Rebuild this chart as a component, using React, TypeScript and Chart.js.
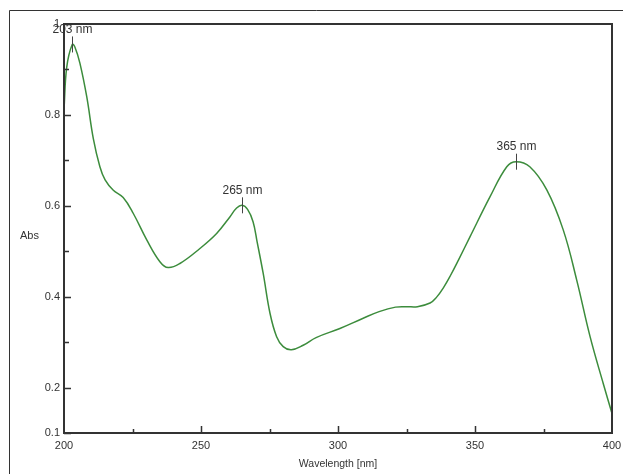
import React, { useEffect, useRef } from "react";
import { Chart, registerables } from "chart.js";

Chart.register(...registerables);

const wavelengths = [
  200, 201, 203, 204, 205.8, 208.3, 210.7, 213.1, 215, 218, 221.6, 225.3, 230.2, 235, 238, 242.3,
  249.6, 255.7, 260.6, 263, 265, 267, 269, 270.5, 272.7, 275.2, 277.6, 280, 283, 287.3, 292,
  300.7, 309, 315, 321, 325, 329, 333.6, 336, 338.4, 341, 344, 348.2, 355.5, 361.6, 365, 370, 376.2,
  382.2, 387.1, 392, 396.8, 400,
];
const absorbance = [
  0.812, 0.905, 0.955, 0.949, 0.914, 0.84, 0.748, 0.686, 0.657, 0.634, 0.618, 0.583, 0.525, 0.477, 0.464, 0.473,
  0.506, 0.539, 0.576, 0.595, 0.601, 0.592, 0.565, 0.52, 0.451, 0.363, 0.312, 0.29, 0.283, 0.293, 0.31,
  0.33, 0.352, 0.367, 0.377, 0.378, 0.378, 0.386, 0.399, 0.419, 0.446, 0.481, 0.532, 0.62, 0.686, 0.697, 0.686, 0.635,
  0.547, 0.437, 0.312, 0.209, 0.143,
];
const peakWavelengths = [203, 265, 365];
const peakLabels = ["203 nm", "265 nm", "365 nm"];
const yTickValues = [0.1, 0.2, 0.4, 0.6, 0.8, 1];
const yMinorTicks = [0.3, 0.5, 0.7, 0.9];
const xMajorTicks = [250, 300, 350];
const xMinorTicks = [225, 275, 325, 375];

const FONT = "'Liberation Sans', Arial, sans-serif";
const TEXT = "#333333";

const decorPlugin = {
  id: "decor",
  beforeDraw(chart: any) {
    const ctx = chart.ctx;
    ctx.save();
    ctx.strokeStyle = "#333";
    ctx.lineWidth = 1;
    ctx.beginPath();
    ctx.moveTo(9.5, 474);
    ctx.lineTo(9.5, 10.5);
    ctx.lineTo(623, 10.5);
    ctx.stroke();
    ctx.fillStyle = TEXT;
    ctx.font = `11px ${FONT}`;
    ctx.textAlign = "left";
    ctx.textBaseline = "middle";
    ctx.fillText("Abs", 20, 236);
    ctx.restore();
  },
  afterDatasetsDraw(chart: any) {
    const ctx = chart.ctx;
    const { left, right, top, bottom } = chart.chartArea;
    const xs = chart.scales.x;
    const ys = chart.scales.y;
    ctx.save();
    ctx.strokeStyle = "#333";
    ctx.lineWidth = 2;
    ctx.strokeRect(left, top, right - left, bottom - top);
    ctx.lineWidth = 1.5;
    ctx.beginPath();
    xMajorTicks.forEach((v) => {
      const px = Math.round(xs.getPixelForValue(v)) + 0.5;
      ctx.moveTo(px, bottom);
      ctx.lineTo(px, bottom - 7);
    });
    xMinorTicks.forEach((v) => {
      const px = Math.round(xs.getPixelForValue(v)) + 0.5;
      ctx.moveTo(px, bottom);
      ctx.lineTo(px, bottom - 4);
    });
    yTickValues.forEach((v) => {
      const py = Math.round(ys.getPixelForValue(v)) + 0.5;
      ctx.moveTo(left, py);
      ctx.lineTo(left + 7, py);
    });
    yMinorTicks.forEach((v) => {
      const py = Math.round(ys.getPixelForValue(v)) + 0.5;
      ctx.moveTo(left, py);
      ctx.lineTo(left + 5, py);
    });
    ctx.stroke();
    ctx.lineWidth = 1;
    ctx.strokeStyle = "#444";
    ctx.fillStyle = TEXT;
    ctx.font = `12px ${FONT}`;
    ctx.textAlign = "center";
    ctx.textBaseline = "middle";
    peakWavelengths.forEach((w, i) => {
      const idx = wavelengths.indexOf(w);
      const a = absorbance[idx];
      const px = Math.round(xs.getPixelForValue(w)) + 0.5;
      const py = ys.getPixelForValue(a);
      ctx.beginPath();
      ctx.moveTo(px, py - 8);
      ctx.lineTo(px, py + 8);
      ctx.stroke();
      ctx.fillText(peakLabels[i], px, py - 15);
    });
    ctx.restore();
  },
};

export default function App() {
  const ref = useRef<HTMLCanvasElement>(null);
  useEffect(() => {
    if (!ref.current) return;
    const chart = new Chart(ref.current, {
      type: "line",
      data: {
        datasets: [
          {
            data: wavelengths.map((w, i) => ({ x: w, y: absorbance[i] })),
            borderColor: "#3c8c3c",
            borderWidth: 1.5,
            pointRadius: 0,
            tension: 0.4,
            fill: false,
          },
        ],
      },
      options: {
        animation: false,
        responsive: false,
        devicePixelRatio: 1,
        layout: { padding: { top: 24, right: 11, left: 0, bottom: 0 } },
        plugins: { legend: { display: false }, tooltip: { enabled: false } },
        scales: {
          x: {
            type: "linear",
            min: 200,
            max: 400,
            border: { display: false },
            grid: { display: false, drawTicks: false },
            ticks: {
              stepSize: 50,
              padding: 6,
              color: TEXT,
              font: { family: FONT, size: 11 },
              maxRotation: 0,
            },
            title: {
              display: true,
              text: "Wavelength [nm]",
              color: TEXT,
              font: { family: FONT, size: 10.5 },
            },
            afterFit: (s: any) => {
              s.height = 41;
              s.paddingLeft = 0;
              s.paddingRight = 0;
            },
          },
          y: {
            type: "linear",
            min: 0.1,
            max: 1,
            border: { display: false },
            grid: { display: false, drawTicks: false },
            afterBuildTicks: (s: any) => {
              s.ticks = yTickValues.map((v) => ({ value: v }));
            },
            ticks: {
              padding: 4,
              color: TEXT,
              font: { family: FONT, size: 11 },
              callback: (v: any) => String(v),
            },
            afterFit: (s: any) => {
              s.width = 64;
              s.paddingTop = 0;
              s.paddingBottom = 0;
            },
          },
        },
      },
      plugins: [decorPlugin],
    } as any);
    return () => chart.destroy();
  }, []);
  return (
    <div style={{ position: "fixed", left: 0, top: 0, width: 623, height: 474, background: "#fff" }}>
      <canvas ref={ref} width={623} height={474} style={{ display: "block" }} />
    </div>
  );
}
